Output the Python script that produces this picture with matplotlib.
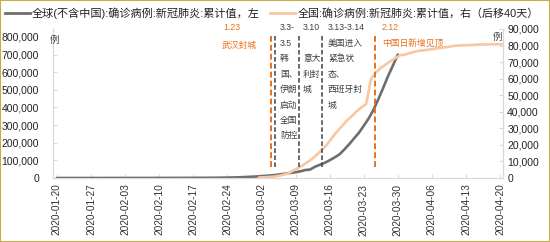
import numpy as np
import matplotlib
matplotlib.use('Agg')
import matplotlib.pyplot as plt
from matplotlib.lines import Line2D
from matplotlib.patches import Rectangle

plt.rcParams['font.family'] = ['Liberation Sans', 'Noto Sans CJK SC']

# global ex-China cumulative confirmed, daily from 2020-01-20 to 2020-03-30 (left axis)
world = [4, 6, 7, 11, 20, 29, 48, 56, 68, 83, 106, 131, 146, 155, 175, 198, 237, 273,
         298, 323, 357, 385, 395, 447, 504, 527, 681, 794, 804, 898, 1076, 1151, 1292,
         1709, 2069, 2459, 2918, 3664, 4691, 6009, 7169, 8774, 10566, 12667, 14768,
         17481, 21184, 24873, 28673, 32824, 37841, 45154, 48000, 64000, 75000, 86000,
         100500, 116500, 133500, 161000, 191000, 224000, 256000, 296000, 337000,
         386000, 447000, 511000, 578000, 638000, 700000]

# China cumulative confirmed, daily from 2020-01-20 to 2020-03-10 (right axis, shifted 40 days)
china = [291, 440, 571, 830, 1287, 1975, 2744, 4515, 5974, 7711, 9692, 11791, 14380,
         17205, 20438, 24324, 28018, 31161, 34546, 37198, 40171, 42638, 44653, 59804,
         63851, 66492, 68500, 70548, 72436, 74185, 74576, 75465, 76288, 76936, 77150,
         77658, 78064, 78497, 78824, 79251, 79824, 80026, 80151, 80270, 80409, 80552,
         80651, 80695, 80735, 80754, 80778]
china_shift = 40 + 1.5  # 40 days plus report lag

tick_labels = ['2020-01-20', '2020-01-27', '2020-02-03', '2020-02-10', '2020-02-17',
               '2020-02-24', '2020-03-02', '2020-03-09', '2020-03-16', '2020-03-23',
               '2020-03-30', '2020-04-06', '2020-04-13', '2020-04-20']

# event markers (days after 2020-01-20)
events_orange = [44.0, 65.3]
events_black = [44.8, 49.8, 54.4]

W, H = 550, 242
def px(x, y):
    return x / W, 1 - y / H

GRAY = '#6e6e6e'
PEACH = '#f8c7a2'
ORANGE = '#e8711c'
TXT = '#404040'
AX = '#d9d9d9'

fig = plt.figure(figsize=(W / 100, H / 100), dpi=100)
ax = fig.add_axes([53 / W, 1 - 178 / H, 450 / W, 149 / H])
ax2 = ax.twinx()

ax.plot(np.arange(len(world)), world, color=GRAY, lw=1.9, solid_capstyle='round', zorder=3)
ax2.plot(np.arange(len(china)) + china_shift, china, color=PEACH, lw=1.9,
         solid_capstyle='round', zorder=2)

for d in events_orange:
    ax2.axvline(d, ymin=0.074, ymax=0.973, color=ORANGE, lw=1.4, ls=(0, (3, 1.6)), zorder=5)
for d in events_black:
    ax2.axvline(d, ymin=0.074, ymax=0.95, color=TXT, lw=1.1, ls=(0, (3, 1.6)), zorder=5)

ax.set_xlim(-0.8, 91.6)
ax.set_ylim(0, 845000)
ax2.set_ylim(0, 90000)
ax.set_xticks(np.arange(0, 92, 7))
ax.set_xticklabels(tick_labels, rotation=90)
ax.set_yticks(np.arange(0, 800001, 100000))
ax.set_yticklabels([f'{v:,}' for v in range(0, 800001, 100000)])
ax2.set_yticks(np.arange(0, 90001, 10000))
ax2.set_yticklabels([f'{v:,}' for v in range(0, 90001, 10000)])

for a in (ax, ax2):
    for s in a.spines.values():
        s.set_color(AX)
        s.set_linewidth(0.8)
    a.spines['top'].set_visible(False)
ax.tick_params(axis='x', direction='in', length=3, color=AX, labelsize=7.3, labelcolor='#333333', pad=4)
ax.tick_params(axis='y', direction='in', length=3, color=AX, labelsize=7.5, labelcolor='#222222', pad=10)
ax2.tick_params(axis='y', direction='in', length=3, color=AX, labelsize=7.5, labelcolor='#222222', pad=3)

# units
fig.text(*px(50, 40), '例', fontsize=6.8, color=TXT, va='center')
fig.text(*px(493, 37), '例', fontsize=6.8, color=TXT, va='center')

# legend
fig.add_artist(Line2D([5 / W, 30 / W], [1 - 13 / H] * 2, color=GRAY, lw=2))
fig.text(*px(32, 13), '全球(不含中国):确诊病例:新冠肺炎:累计值，左', fontsize=8, color='#222222', va='center')
fig.add_artist(Line2D([270 / W, 295 / W], [1 - 13 / H] * 2, color=PEACH, lw=2))
fig.text(*px(298, 13), '全国:确诊病例:新冠肺炎:累计值，右（后移40天）', fontsize=7.9, color='#222222', va='center')

# annotations
def lines(x, y0, rows, color, step=15.4):
    for i, r in enumerate(rows):
        if r:
            fig.text(*px(x, y0 + i * step), r, fontsize=6.3, color=color, va='center')

lines(223, 28, ['1.23'], ORANGE)
lines(222, 45, ['武汉封城'], ORANGE)
lines(280, 28, ['3.3-', '3.5', '韩', '国、', '伊朗', '启动', '全国', '防控'], TXT)
lines(303, 28, ['3.10', '', '意大', '利封', '城'], TXT)
lines(328, 28, ['3.13-3.14', '美国进入', '紧急状', '态、', '西班牙封', '城'], TXT)
lines(382, 28, ['2.12', '中国日新增见顶'], ORANGE)

fig.add_artist(Rectangle((0, 0), 1, 1, transform=fig.transFigure, fill=False,
                         edgecolor='#c8ab4b', lw=1.5))

fig.savefig('out.png', dpi=100)
